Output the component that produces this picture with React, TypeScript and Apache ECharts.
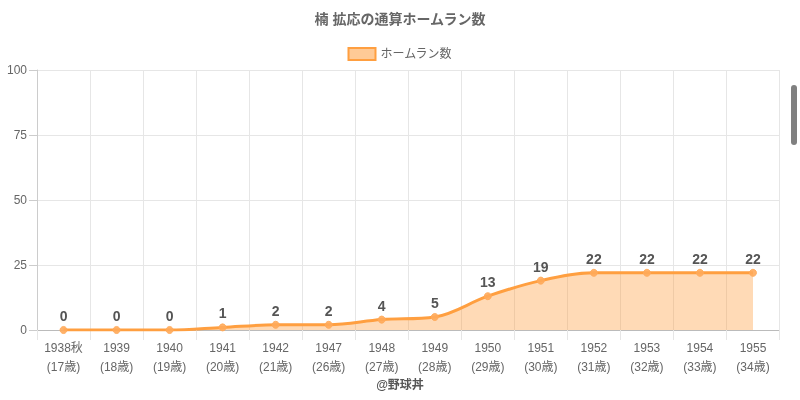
import React, { useEffect, useRef } from "react";
import * as echarts from "echarts";

const seasons = ["1938秋", "1939", "1940", "1941", "1942", "1947", "1948", "1949", "1950", "1951", "1952", "1953", "1954", "1955"];
const ages = ["17歳", "18歳", "19歳", "20歳", "21歳", "26歳", "27歳", "28歳", "29歳", "30歳", "31歳", "32歳", "33歳", "34歳"];
const homeRuns = [0, 0, 0, 1, 2, 2, 4, 5, 13, 19, 22, 22, 22, 22];
const yTicks = { min: 0, max: 100, interval: 25 };

const FONT = "'Helvetica Neue', Helvetica, Arial, 'Liberation Sans', 'Noto Sans CJK JP', sans-serif";
const ORANGE = "rgb(255,159,64)";
const ORANGE_FILL = "rgba(255,159,64,0.55)";

export default function App() {
  const ref = useRef<HTMLDivElement>(null);
  useEffect(() => {
    if (!ref.current) return;
    const chart = echarts.init(ref.current, undefined, { renderer: "svg" });
    const categories = seasons.map((s, i) => `${s}\n(${ages[i]})`);
    chart.setOption({
      animation: false,
      textStyle: { fontFamily: FONT },
      title: {
        text: "楠 拡応の通算ホームラン数",
        left: "center",
        top: 7,
        textStyle: { fontSize: 14, fontWeight: "bold", color: "#666", fontFamily: FONT },
      },
      legend: {
        top: 42,
        left: "center",
        itemWidth: 27,
        itemHeight: 12,
        itemGap: 10,
        textStyle: { fontSize: 12, color: "#666", fontFamily: FONT },
        data: [
          {
            name: "ホームラン数",
            icon: "rect",
            itemStyle: { color: ORANGE_FILL, borderColor: ORANGE, borderWidth: 2 },
          },
        ],
      },
      grid: { left: 37, right: 20.5, top: 70, bottom: 70, containLabel: false },
      xAxis: {
        type: "category",
        data: categories,
        boundaryGap: true,
        axisLine: { show: true, lineStyle: { color: "#bbb", width: 1 } },
        axisTick: { show: true, length: 10, lineStyle: { color: "#e6e6e6" } },
        splitLine: { show: true, lineStyle: { color: "#e6e6e6", width: 1 } },
        axisLabel: { color: "#666", fontSize: 12, lineHeight: 19, margin: 8, fontFamily: FONT, interval: 0 },
      },
      yAxis: {
        type: "value",
        min: yTicks.min,
        max: yTicks.max,
        interval: yTicks.interval,
        axisLine: { show: true, lineStyle: { color: "#ccc" } },
        axisTick: { show: true, length: 8, lineStyle: { color: "#ccc" } },
        splitLine: { show: true, lineStyle: { color: "#e6e6e6" } },
        axisLabel: { color: "#666", fontSize: 12, margin: 10, fontFamily: FONT },
      },
      series: [
        {
          name: "ホームラン数",
          type: "line",
          data: homeRuns,
          smooth: 0.35,
          symbol: "circle",
          symbolSize: 7,
          itemStyle: { color: "rgba(255,170,90,0.9)", borderColor: "rgba(255,170,90,0.9)", borderWidth: 1 },
          lineStyle: { color: ORANGE, width: 3 },
          areaStyle: { color: ORANGE_FILL, origin: "start" },
          label: {
            show: true,
            position: "top",
            distance: 3,
            fontSize: 14,
            fontWeight: "bold",
            color: "#555",
            fontFamily: FONT,
          },
        },
      ],
      graphic: [
        {
          type: "text",
          left: "center",
          top: 379,
          style: { text: "@野球丼", fontSize: 12, fontWeight: "bold", fill: "#555", fontFamily: FONT },
        },
        {
          type: "rect",
          shape: { x: 791, y: 85, width: 6, height: 60, r: 3 },
          style: { fill: "#808080" },
        },
      ],
    });
    return () => chart.dispose();
  }, []);
  return <div ref={ref} style={{ position: "fixed", left: 0, top: 0, width: 800, height: 400 }} />;
}
